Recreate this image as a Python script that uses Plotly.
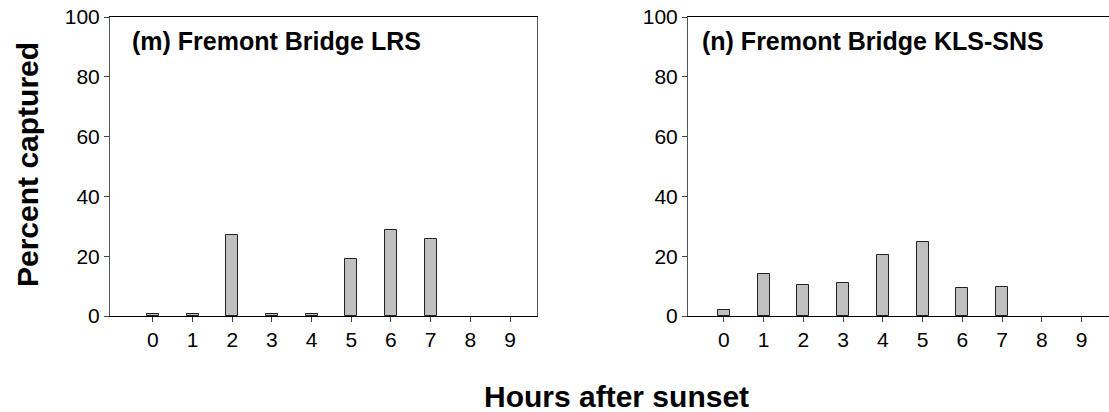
import plotly.graph_objects as go

hours = [0, 1, 2, 3, 4, 5, 6, 7, 8, 9]
tick_labels = ["0", "1", "2", "3", "4", "5", "6", "7", "8", "9"]
lrs_values = [0.7, 0.7, 27.2, 0.7, 0.7, 18.9, 28.8, 25.7, 0, 0]
kls_values = [1.9, 14.2, 10.3, 10.9, 20.4, 24.7, 9.2, 9.8, 0, 0]
y_ticks = [0, 20, 40, 60, 80, 100]

W, H = 1109, 412
FONT = "Liberation Sans, Arial, sans-serif"
fig = go.Figure()

def nonzero(xs, ys):
    pairs = [(x, y) for x, y in zip(xs, ys) if y > 0]
    return [p[0] for p in pairs], [p[1] for p in pairs]

bar_style = dict(marker=dict(color="#c0c0c0", line=dict(color="#222222", width=1)),
                 width=0.3, showlegend=False, hoverinfo="x+y")
x1, y1 = nonzero(hours, lrs_values)
x2, y2 = nonzero(hours, kls_values)
fig.add_trace(go.Bar(x=x1, y=y1, xaxis="x", yaxis="y", **bar_style))
fig.add_trace(go.Bar(x=x2, y=y2, xaxis="x2", yaxis="y2", **bar_style))

ydom = [(H - 316) / H, (H - 17) / H]
font_tick = dict(family=FONT, size=21, color="#000")

def xaxis(domain, rng, anchor):
    return dict(domain=domain, range=rng, anchor=anchor, tickmode="array",
                tickvals=hours, ticktext=tick_labels, ticks="outside", ticklen=5,
                tickcolor="#444", showline=True, linecolor="#000", linewidth=1,
                mirror=True, showgrid=False, zeroline=False, tickfont=font_tick,
                fixedrange=True, automargin=False)

def yaxis(anchor, mirror):
    return dict(domain=ydom, range=[0, 100], anchor=anchor, tickmode="array",
                tickvals=y_ticks, ticks="outside", ticklen=5, tickcolor="#444",
                showline=True, linecolor="#555", linewidth=1, mirror=mirror,
                showgrid=False, zeroline=False, tickfont=font_tick, fixedrange=True,
                automargin=False)

fig.update_layout(
    width=W, height=H,
    margin=dict(l=0, r=0, t=0, b=0, autoexpand=False),
    paper_bgcolor="white", plot_bgcolor="white",
    bargap=0,
    xaxis=xaxis([110 / W, 537 / W], [-1.08, 9.68], "y"),
    yaxis=yaxis("x", True),
    xaxis2=xaxis([688 / W, 1.0], [-0.9, 9.69], "y2"),
    yaxis2=yaxis("x2", False),
    font=dict(family=FONT, color="#000"),
)

bold = dict(family=FONT, size=25, color="#000")
fig.add_annotation(text="<b>(m) Fremont Bridge LRS</b>", x=130 / W, y=(H - 41) / H,
                   xref="paper", yref="paper", xanchor="left", yanchor="middle",
                   showarrow=False, font=bold)
fig.add_annotation(text="<b>(n) Fremont Bridge KLS-SNS</b>", x=700 / W, y=(H - 41) / H,
                   xref="paper", yref="paper", xanchor="left", yanchor="middle",
                   showarrow=False, font=bold)
big = dict(family=FONT, size=30, color="#000")
fig.add_annotation(text="<b>Percent captured</b>", x=27 / W, y=(H - 165) / H,
                   xref="paper", yref="paper", xanchor="center", yanchor="middle",
                   textangle=-90, showarrow=False, font=big)
fig.add_annotation(text="<b>Hours after sunset</b>", x=616 / W, y=(H - 396) / H,
                   xref="paper", yref="paper", xanchor="center", yanchor="middle",
                   showarrow=False, font=big)

fig.write_html("out.html", config={"displayModeBar": False})
